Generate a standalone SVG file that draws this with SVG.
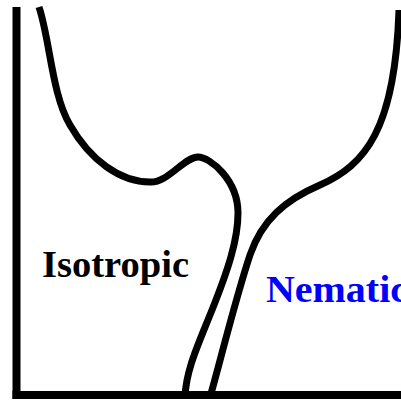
<svg xmlns="http://www.w3.org/2000/svg" width="401" height="401" viewBox="0 0 401 401">
<style>
.ln{fill:none;stroke:#000;stroke-width:7;stroke-linecap:butt;stroke-linejoin:round}
.ax{fill:none;stroke:#000;stroke-width:8}
.lb{font-family:"Liberation Serif","DejaVu Serif",serif;font-weight:bold;font-size:37px}
</style>
<rect width="401" height="401" fill="#fff"/>
<g id="axes">
<line class="ax" x1="16.5" y1="7" x2="16.5" y2="399"/>
<line class="ax" x1="12.5" y1="395" x2="401" y2="395"/>
</g>
<g id="curves">
<path class="ln" d="M39,7 C50,40 52,95 70,125 C90,160 120,182 150,182 C168,183 184,157 198,157 C210,157 238,180 238,213 C238,240 228,270 212,310 C198,345 186,370 185,397"/>
<path class="ln" d="M210,397 C218,370 235,300 250,255 C262,220 285,200 320,185 C365,165 395,130 399,10"/>
</g>
<g id="labels">
<text class="lb" x="42" y="277" fill="#000" textLength="147" lengthAdjust="spacingAndGlyphs">Isotropic</text>
<text class="lb" x="266" y="302" fill="#0000ff" textLength="142" lengthAdjust="spacingAndGlyphs">Nematic</text>
</g>
</svg>
